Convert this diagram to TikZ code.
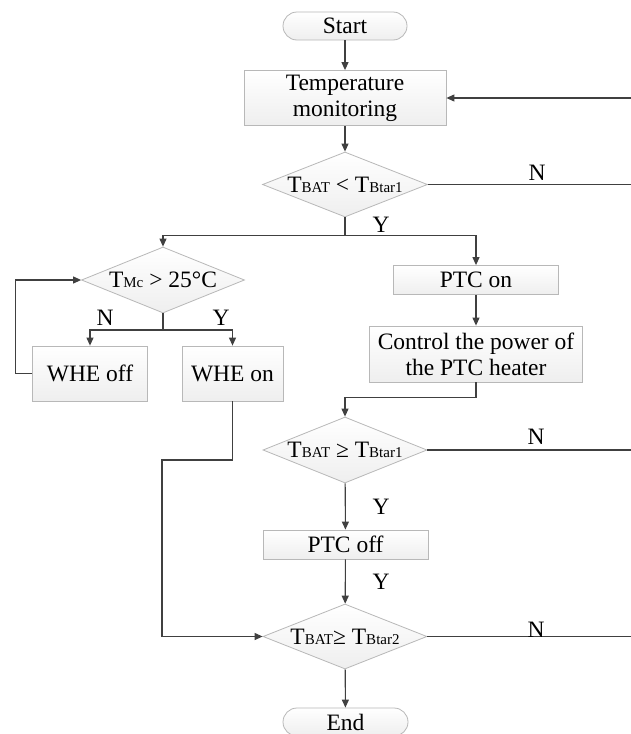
\documentclass[tikz,border=0pt]{standalone}
\usepackage{fontspec}
\setmainfont{Liberation Serif}
\usetikzlibrary{shapes.geometric,arrows.meta}
\definecolor{ln}{HTML}{404040}
\definecolor{bd}{HTML}{B8B8B8}
\newcommand\sbt[1]{{\fontsize{15}{15}\selectfont #1}}
\begin{document}
\begin{tikzpicture}[x=1pt,y=-1pt,
  basefont/.style={font=\fontsize{23.5}{26}\selectfont},
  box/.style={basefont, draw=bd, line width=0.8pt, top color=white, bottom color=gray!13, rectangle, inner sep=0pt, align=center},
  term/.style={box, rounded corners=14pt},
  dia/.style={basefont, draw=bd, line width=0.8pt, top color=white, bottom color=gray!13, diamond, inner sep=0pt, aspect=2.5},
  conn/.style={draw=ln, line width=1.1pt},
  arr/.style={conn, -{Triangle[length=8pt,width=7pt]}},
  lab/.style={basefont, inner sep=0pt}
]
\useasboundingbox (0,0) rectangle (631,734);
\fill[white] (0,0) rectangle (631,734);

\node[term, minimum width=124, minimum height=28] (start) at (345,26) {Start};
\node[box, minimum width=202, minimum height=55] (tm) at (345,98) {Temperature\\monitoring};
\node[dia, minimum width=165, minimum height=65] (d1) at (345,184.5) {T\sbt{BAT} < T\sbt{Btar1}};
\node[dia, minimum width=163, minimum height=66] (d2) at (163,280) {T\sbt{Mc} > 25°C};
\node[box, minimum width=115, minimum height=55] (whoff) at (90,373.5) {WHE off};
\node[box, minimum width=101, minimum height=55] (whon) at (232.5,373.5) {WHE on};
\node[box, minimum width=165, minimum height=29] (ptcon) at (476,280) {PTC on};
\node[box, minimum width=213, minimum height=56] (ctrl) at (476,354) {Control the power of\\the PTC heater};
\node[dia, minimum width=164, minimum height=66] (d3) at (345,450) {T\sbt{BAT} ≥ T\sbt{Btar1}};
\node[box, minimum width=165, minimum height=29] (ptcoff) at (345.5,544.5) {PTC off};
\node[dia, minimum width=164, minimum height=65] (d4) at (345,636.5) {T\sbt{BAT}≥ T\sbt{Btar2}};
\node[term, minimum width=125, minimum height=28] (end) at (345.5,722) {End};

\coordinate (r1) at (631,98);
\coordinate (r2) at (631,184.5);
\coordinate (r3) at (631,450);
\coordinate (r4) at (631,636.5);
\coordinate (j1) at (345,235.5);
\coordinate (j2) at (163,330);
\coordinate (k1) at (162,460);

\draw[arr] (start) -- (tm);
\draw[arr] (r1) -- (tm.east);
\draw[arr] (tm) -- (d1);
\draw[conn] (d1.east) -- (r2);
\draw[conn] (d1.south) -- (j1);
\draw[arr] (j1) -| (d2.north);
\draw[arr] (j1) -| (ptcon.north);
\draw[conn] (d2.south) -- (j2);
\draw[arr] (j2) -| (whoff.north);
\draw[arr] (j2) -| (whon.north);
\draw[arr] (whoff.west) -- ++(-17,0) |- (d2.west);
\draw[arr] (whon.south) |- (k1) |- (d4.west);
\draw[arr] (ptcon) -- (ctrl);
\draw[arr] (ctrl.south) -- ++(0,15) -| (d3.north);
\draw[conn] (d3.east) -- (r3);
\draw[arr] (d3) -- (ptcoff);
\draw[arr] (ptcoff) -- (d4);
\draw[conn] (d4.east) -- (r4);
\draw[arr] (d4) -- (end);

\node[lab] (n1) at (537,173) {N};
\node[lab] (y1) at (381,225) {Y};
\node[lab] (n2) at (105,318) {N};
\node[lab] (y2) at (221,318) {Y};
\node[lab] (n3) at (536,437) {N};
\node[lab] (y3) at (381,507) {Y};
\node[lab] (y4) at (381,582) {Y};
\node[lab] (n4) at (536,630) {N};
\end{tikzpicture}
\end{document}
